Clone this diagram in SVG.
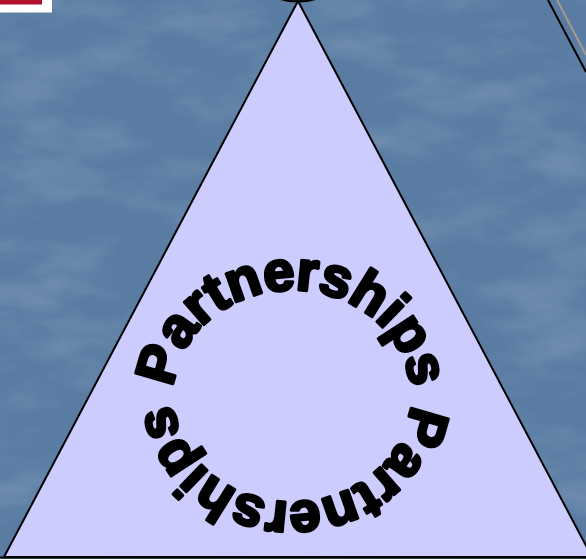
<svg xmlns="http://www.w3.org/2000/svg" xmlns:xlink="http://www.w3.org/1999/xlink" width="586" height="559" viewBox="0 0 586 559">
  <style>
    .tri { fill: #ccccff; stroke: #000; stroke-width: 2; stroke-linejoin: miter; }
    .word { font-family: "Liberation Sans", Arial, sans-serif; font-weight: bold; font-size: 56px; fill: #000; stroke: #000; stroke-width: 3.2; stroke-linejoin: round; }
  </style>
  <defs>
    <filter id="tex" x="0" y="0" width="100%" height="100%">
      <feTurbulence type="fractalNoise" baseFrequency="0.01 0.025" numOctaves="4" seed="7"/>
      <feColorMatrix type="matrix" values="0 0 0 0 1  0 0 0 0 1  0 0 0 0 1  0.9 0 0 0 -0.38"/>
    </filter>
    <path id="ring" d="M 173,396 A 119 106 0 1 1 411,396 A 119 106 0 1 1 173,396"/>
  </defs>

  <g id="background">
    <rect x="0" y="0" width="586" height="559" fill="#5a7ca3"/>
    <rect x="0" y="0" width="586" height="559" filter="url(#tex)" opacity="0.35"/>
  </g>

  <g id="corner-badge">
    <rect x="0" y="0" width="52" height="12.5" fill="#ffffff"/>
    <rect x="0" y="0" width="42" height="4.5" fill="#b3102c"/>
  </g>

  <g id="apex-cap">
    <ellipse cx="298" cy="-10" rx="28" ry="11.5" fill="#1a2330" stroke="#000" stroke-width="2"/>
  </g>

  <g id="right-triangle">
    <line x1="557" y1="0" x2="586" y2="55" stroke="#a59a8e" stroke-width="2"/>
    <line x1="548" y1="0" x2="586" y2="72" stroke="#000" stroke-width="2"/>
  </g>

  <g id="triangle">
    <polygon class="tri" points="298,1 4,557 592,557"/>
    <line x1="0" y1="557.5" x2="586" y2="557.5" stroke="#000" stroke-width="2"/>
  </g>

  <g id="ring-text">
    <text class="word" letter-spacing="-0.5"><textPath xlink:href="#ring" href="#ring" startOffset="25%" text-anchor="middle">Partnerships</textPath></text>
    <text class="word" letter-spacing="-0.5"><textPath xlink:href="#ring" href="#ring" startOffset="75%" text-anchor="middle">Partnerships</textPath></text>
  </g>
</svg>
